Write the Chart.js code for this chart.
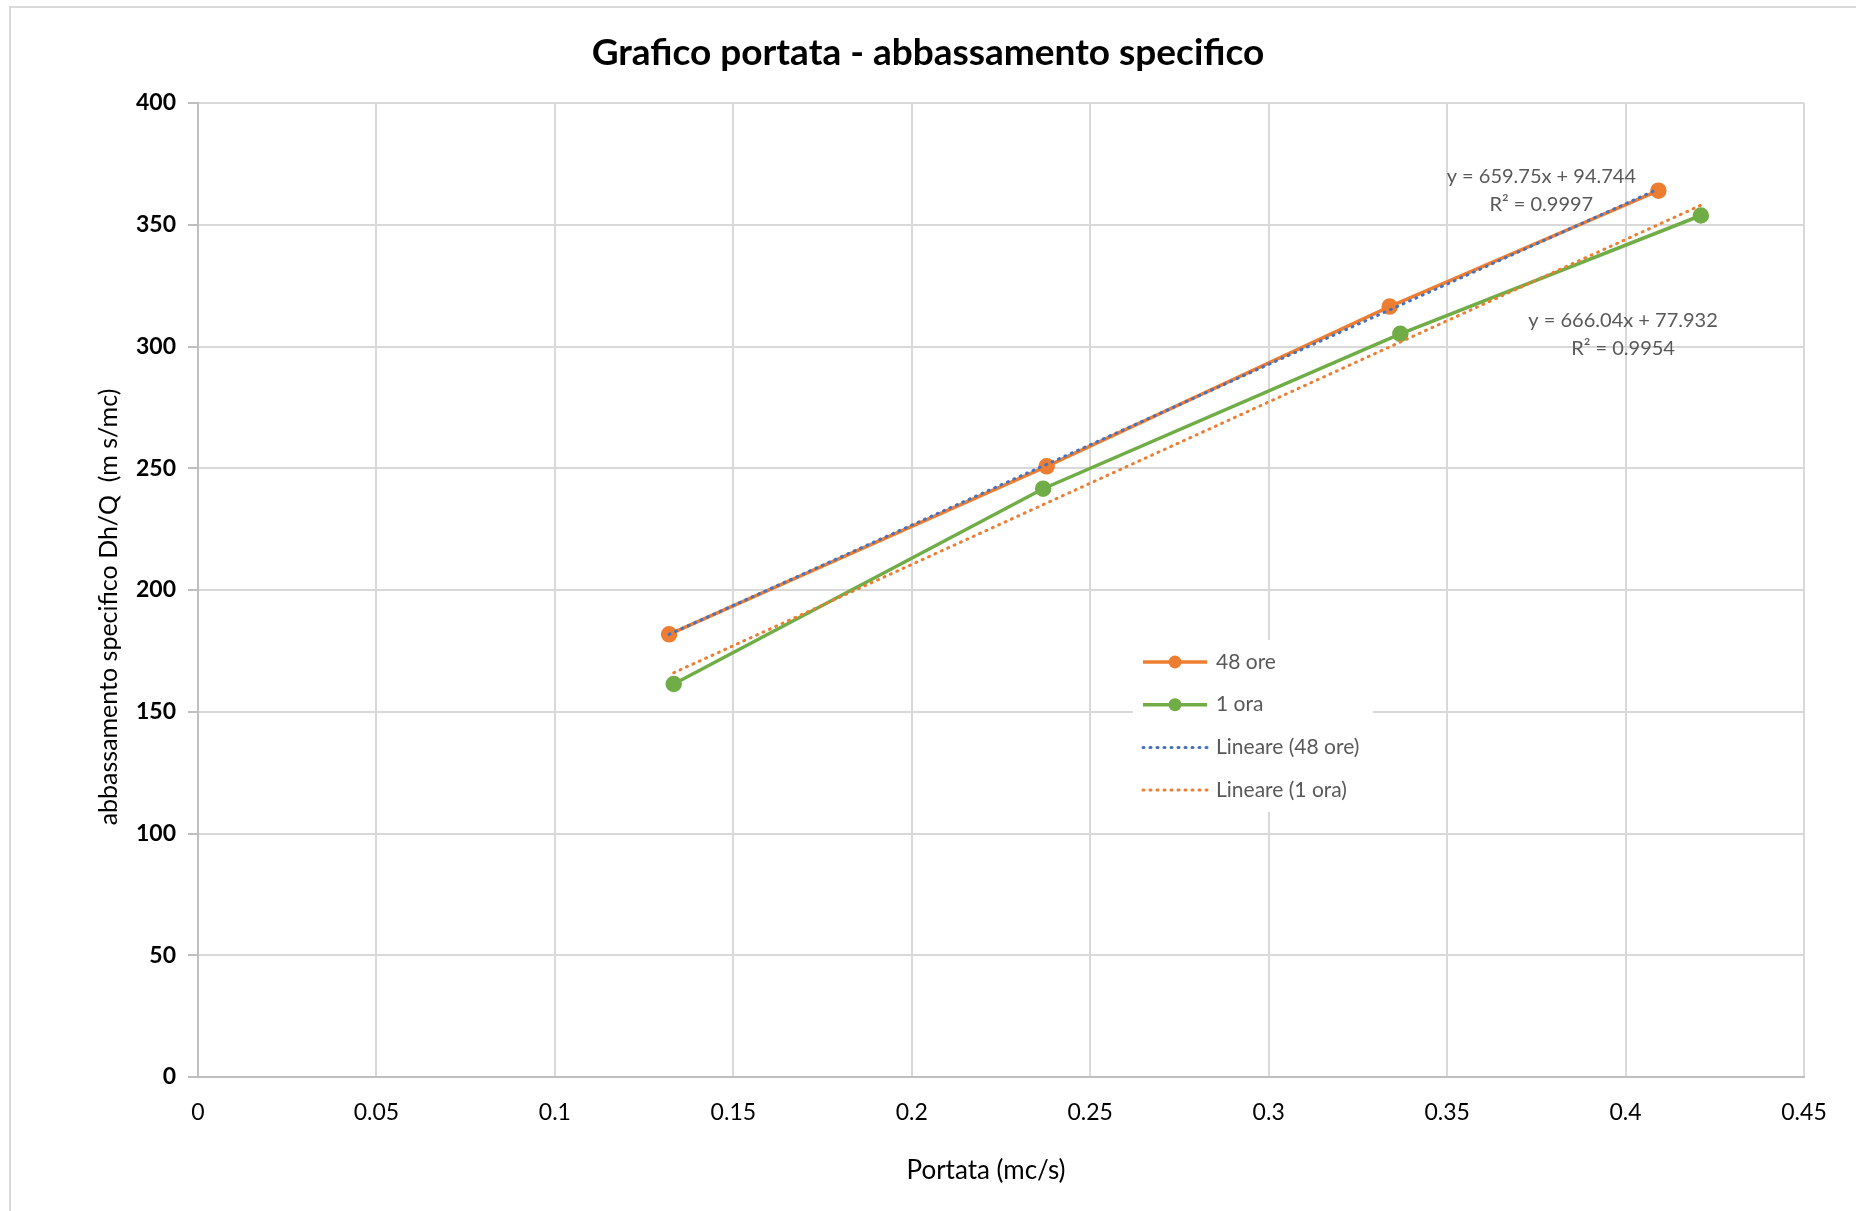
<!DOCTYPE html>
<html>
<head>
<meta charset="utf-8">
<script src="https://cdn.jsdelivr.net/npm/chart.js@4.4.1/dist/chart.umd.min.js"></script>
<style>
  html, body { margin: 0; padding: 0; background: #fff; }
  #wrap { width: 1856px; height: 1211px; position: relative; }
</style>
</head>
<body>
<div id="wrap"><canvas id="chart"></canvas></div>
<script>
// tick labels
const xTicks = [0, 0.05, 0.1, 0.15, 0.2, 0.25, 0.3, 0.35, 0.4, 0.45];
const yTicks = [0, 50, 100, 150, 200, 250, 300, 350, 400];

// series "48 ore"
const portata48 = [0.132, 0.2378, 0.3339, 0.4092];
const abbass48 = [181.8, 250.8, 316.4, 364.0];
// series "1 ora"
const portata1 = [0.1333, 0.2368, 0.3369, 0.4211];
const abbass1 = [161.4, 241.6, 305.2, 353.8];

// trend lines (end points)
const trend48X = [0.132, 0.4092];
const trend48Y = [181.8, 364.7];
const trend1X = [0.1333, 0.4211];
const trend1Y = [166.0, 358.0];

const seriesNames = ['48 ore', '1 ora', 'Lineare (48 ore)', 'Lineare (1 ora)'];

// trend equations and where they sit (data units)
const equations = [
  ['y = 659.75x + 94.744', 'R² = 0.9997'],
  ['y = 666.04x + 77.932', 'R² = 0.9954']
];
const eqX = [0.3764, 0.3993];
const eqY = [370.4, 311];

const chartTitle = 'Grafico portata - abbassamento specifico';
const xTitle = 'Portata (mc/s)';
const yTitle = 'abbassamento specifico Dh/Q  (m s/mc)';

const FONT = 'Lato, "Open Sans", sans-serif';
const ORANGE = '#ED7D31';
const GREEN = '#70AD47';
const BLUE = '#4472C4';

const pts = (xs, ys) => xs.map((x, i) => ({ x: x, y: ys[i] }));

// frame round the chart
const framePlugin = {
  id: 'frame',
  beforeDraw(chart) {
    const ctx = chart.ctx;
    ctx.save();
    ctx.fillStyle = '#fff';
    ctx.fillRect(0, 0, chart.width, chart.height);
    ctx.strokeStyle = '#d9d9d9';
    ctx.lineWidth = 2;
    ctx.strokeRect(10, 7, chart.width + 20, chart.height + 20);
    ctx.restore();
  }
};

// axis titles, placed like Excel does (not centred on the plot)
const axisTitlePlugin = {
  id: 'axisTitles',
  afterDraw(chart) {
    const ctx = chart.ctx;
    ctx.save();
    ctx.fillStyle = '#000';
    ctx.textAlign = 'center';
    ctx.textBaseline = 'middle';
    ctx.font = '26px ' + FONT;
    ctx.fillText(xTitle, 986, 1171);
    ctx.translate(109, 607);
    ctx.rotate(-Math.PI / 2);
    ctx.font = '25px ' + FONT;
    ctx.fillText(yTitle, 0, 0);
    ctx.restore();
  }
};

// trend equations
const equationPlugin = {
  id: 'equations',
  afterDatasetsDraw(chart) {
    const ctx = chart.ctx;
    const xs = chart.scales.x, ys = chart.scales.y;
    ctx.save();
    ctx.font = '20px ' + FONT;
    ctx.fillStyle = '#595959';
    ctx.textAlign = 'center';
    ctx.textBaseline = 'middle';
    equations.forEach((lines, i) => {
      const px = xs.getPixelForValue(eqX[i]);
      const py = ys.getPixelForValue(eqY[i]);
      lines.forEach((t, j) => ctx.fillText(t, px, py + 1 + j * 28));
    });
    ctx.restore();
  }
};

// legend drawn inside the plot area
const legendPlugin = {
  id: 'insideLegend',
  afterDraw(chart) {
    const ctx = chart.ctx;
    const left = 1133, top = 640, w = 240, h = 172;
    ctx.save();
    ctx.fillStyle = '#fff';
    ctx.fillRect(left, top, w, h);
    chart.data.datasets.forEach((ds, i) => {
      const cy = 662 + i * 42.7;
      const x1 = 1143, x2 = 1207;
      ctx.strokeStyle = ds.borderColor;
      ctx.lineWidth = ds.borderWidth;
      ctx.setLineDash(ds.borderDash || []);
      ctx.lineCap = ds.borderDash ? 'round' : 'butt';
      ctx.beginPath();
      ctx.moveTo(x1, cy);
      ctx.lineTo(x2, cy);
      ctx.stroke();
      ctx.setLineDash([]);
      if (ds.pointRadius > 0) {
        ctx.fillStyle = ds.backgroundColor;
        ctx.beginPath();
        ctx.arc((x1 + x2) / 2, cy, ds.pointRadius, 0, Math.PI * 2);
        ctx.fill();
      }
      ctx.fillStyle = '#595959';
      ctx.font = '21px ' + FONT;
      ctx.textAlign = 'left';
      ctx.textBaseline = 'middle';
      ctx.fillText(ds.label, 1216, cy);
    });
    ctx.restore();
  }
};

new Chart(document.getElementById('chart'), {
  type: 'scatter',
  data: {
    datasets: [
      {
        label: seriesNames[0],
        data: pts(portata48, abbass48),
        showLine: true,
        borderColor: ORANGE,
        backgroundColor: ORANGE,
        borderWidth: 3.5,
        pointRadius: 6.5,
        pointHoverRadius: 6.5,
        order: 3
      },
      {
        label: seriesNames[1],
        data: pts(portata1, abbass1),
        showLine: true,
        borderColor: GREEN,
        backgroundColor: GREEN,
        borderWidth: 3.5,
        pointRadius: 6.5,
        pointHoverRadius: 6.5,
        order: 4
      },
      {
        label: seriesNames[2],
        data: pts(trend48X, trend48Y),
        showLine: true,
        borderColor: BLUE,
        backgroundColor: BLUE,
        borderWidth: 3,
        borderDash: [1, 6],
        borderCapStyle: 'round',
        pointRadius: 0,
        order: 1
      },
      {
        label: seriesNames[3],
        data: pts(trend1X, trend1Y),
        showLine: true,
        borderColor: ORANGE,
        backgroundColor: ORANGE,
        borderWidth: 3,
        borderDash: [1, 6],
        borderCapStyle: 'round',
        pointRadius: 0,
        order: 2
      }
    ]
  },
  options: {
    responsive: true,
    maintainAspectRatio: false,
    animation: false,
    layout: { padding: { left: 52, right: 52, top: 0, bottom: 0 } },
    plugins: {
      legend: { display: false },
      tooltip: { enabled: false },
      title: {
        display: true,
        text: chartTitle,
        color: '#000',
        font: { family: FONT, size: 37, weight: 'bold', lineHeight: 1.2 },
        padding: { top: 31, bottom: 27.6 }
      }
    },
    scales: {
      x: {
        type: 'linear',
        min: 0,
        max: 0.45,
        afterBuildTicks: s => { s.ticks = xTicks.map(v => ({ value: v })); },
        afterFit: s => { s.height = 134; },
        ticks: {
          color: '#000',
          font: { family: FONT, size: 23 },
          padding: 22,
          maxRotation: 0,
          callback: v => String(v)
        },
        grid: { color: '#d9d9d9', lineWidth: 2, drawTicks: false },
        border: { color: '#bfbfbf', width: 2 }
      },
      y: {
        type: 'linear',
        min: 0,
        max: 400,
        afterBuildTicks: s => { s.ticks = yTicks.map(v => ({ value: v })); },
        afterFit: s => { s.width = 146; },
        ticks: {
          color: '#000',
          font: { family: FONT, size: 23, weight: 'bold' },
          padding: 12
        },
        grid: { color: '#d9d9d9', lineWidth: 2, tickLength: 10, tickColor: '#bfbfbf' },
        border: { color: '#bfbfbf', width: 2 }
      }
    }
  },
  plugins: [framePlugin, equationPlugin, legendPlugin, axisTitlePlugin]
});
</script>
</body>
</html>
